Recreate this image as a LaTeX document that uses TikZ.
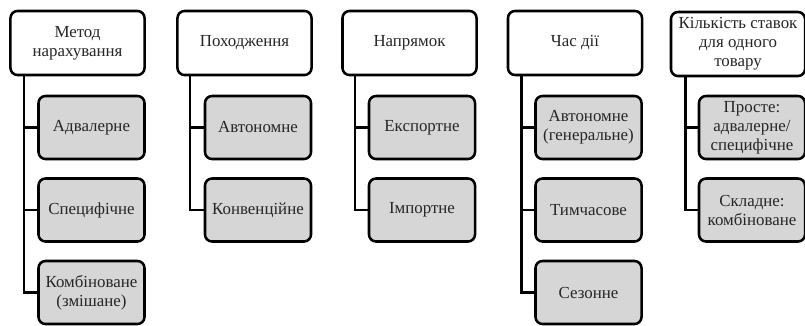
\documentclass[tikz,border=0pt]{standalone}
\usepackage{fontspec}
\setmainfont{Liberation Serif}

\begin{document}
\begin{tikzpicture}[x = 0.025cm, y = -0.025cm,
	head/.style = {draw, rounded corners = 5pt, line width = 1.8pt, fill = white,
		minimum width = 3.35cm, minimum height = 1.6cm, inner sep = 1pt,
		align = center, font = \fontsize{12}{13.5}\selectfont, text = black!85},
	item/.style = {head, fill = black!16, minimum width = 2.65cm, minimum height = 1.575cm},
	link/.style = {line width = 1.8pt}]

	\useasboundingbox (0, 0) rectangle (805, 325);

	% Heads

	\node [head] (metod) at (77.5, 43) {Метод\\нарахування};
	\node [head] (pokh) at (244.5, 43) {Походження};
	\node [head] (napr) at (409.5, 43) {Напрямок};
	\node [head] (chas) at (575, 43) {Час дії};
	\node [head] (kilk) at (738, 44) {Кількість ставок\\для одного\\товару};

	% Items

	\node [item] (advl) at (91.5, 127.5) {Адвалерне};
	\node [item] (spec) at (91.5, 210) {Специфічне};
	\node [item] (komb) at (91.5, 292.5) {Комбіноване\\(змішане)};

	\node [item] (avt) at (258, 127.5) {Автономне};
	\node [item] (konv) at (258, 210) {Конвенційне};

	\node [item] (eksp) at (422, 127.5) {Експортне};
	\node [item] (imp) at (422, 210) {Імпортне};

	\node [item] (gen) at (588.5, 127.5) {Автономне\\(генеральне)};
	\node [item] (tymch) at (588.5, 210) {Тимчасове};
	\node [item] (sez) at (588.5, 292.5) {Сезонне};

	\node [item] (prost) at (752, 127.5) {Просте:\\адвалерне/\\специфічне};
	\node [item] (skl) at (752, 210) {Складне:\\комбіноване};

	% Links

	\draw [link] (metod.south west) ++(15, 0) |- (advl.west);
	\draw [link] (metod.south west) ++(15, 0) |- (spec.west);
	\draw [link] (metod.south west) ++(15, 0) |- (komb.west);

	\draw [link] (pokh.south west) ++(14, 0) |- (avt.west);
	\draw [link] (pokh.south west) ++(14, 0) |- (konv.west);

	\draw [link] (napr.south west) ++(14, 0) |- (eksp.west);
	\draw [link] (napr.south west) ++(14, 0) |- (imp.west);

	\draw [link] (chas.south west) ++(15, 0) |- (gen.west);
	\draw [link] (chas.south west) ++(15, 0) |- (tymch.west);
	\draw [link] (chas.south west) ++(15, 0) |- (sez.west);

	\draw [link] (kilk.south west) ++(16, 0) |- (prost.west);
	\draw [link] (kilk.south west) ++(16, 0) |- (skl.west);

\end{tikzpicture}
\end{document}
